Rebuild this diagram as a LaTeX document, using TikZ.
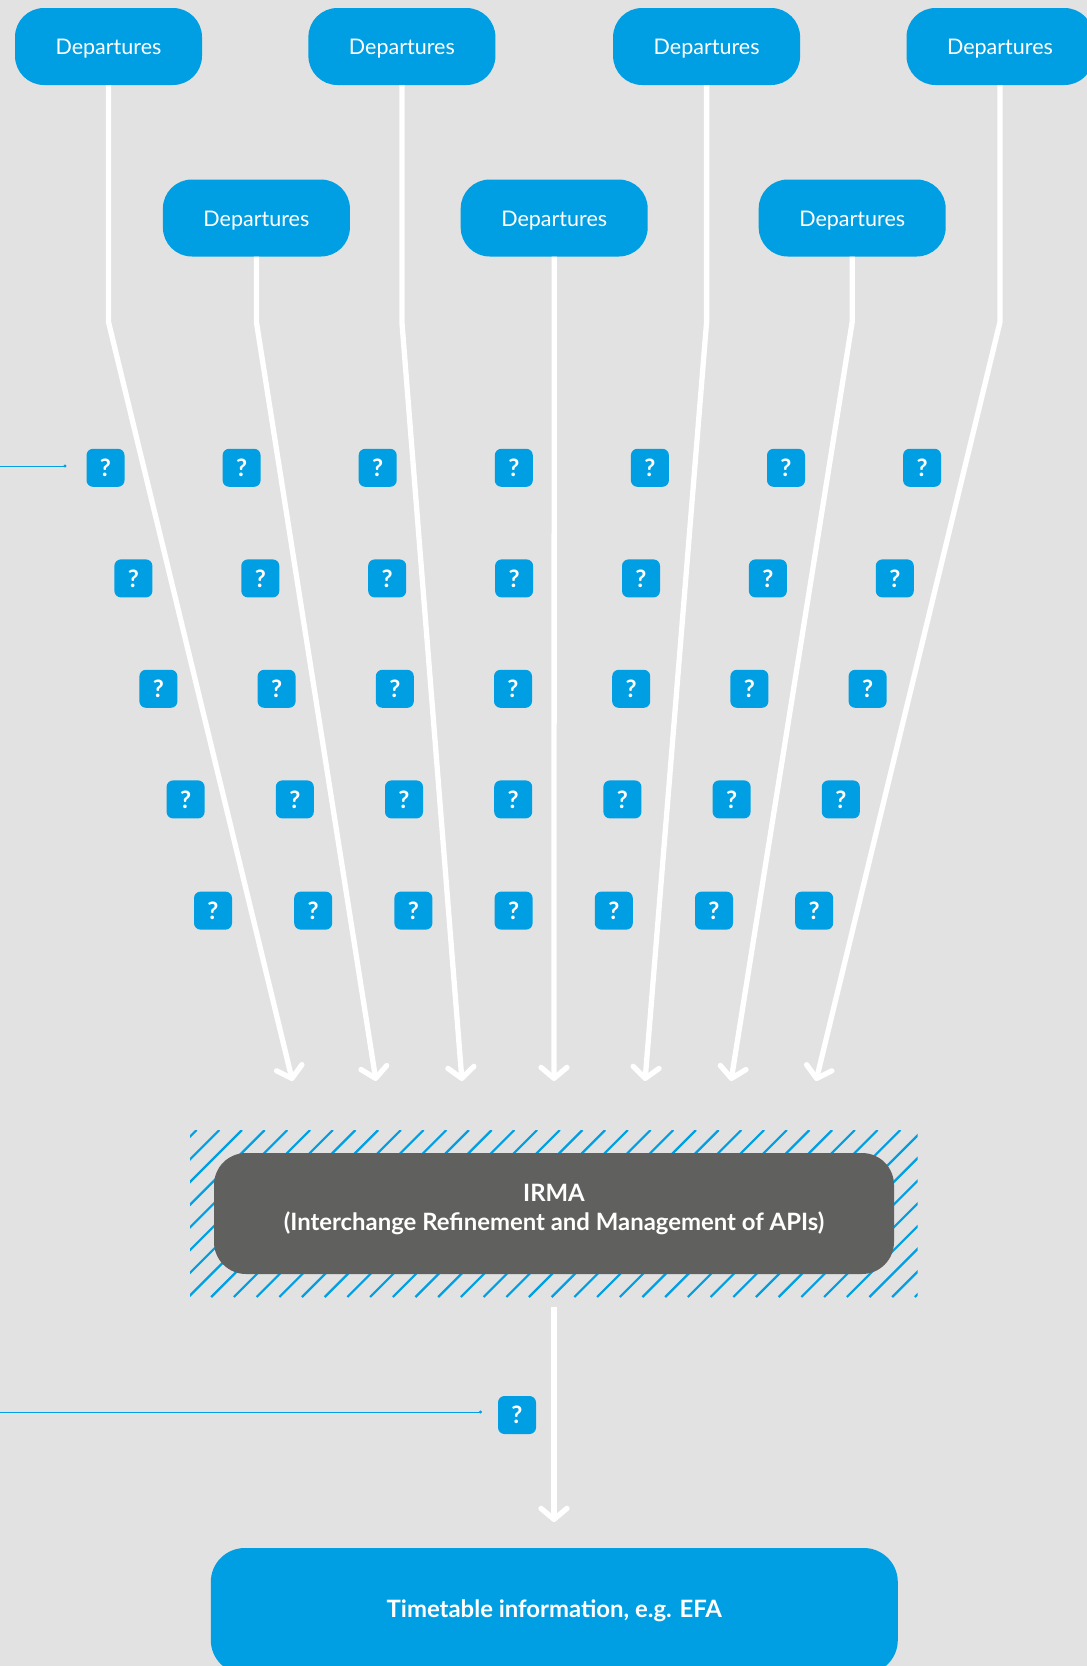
\documentclass[tikz,border=0pt]{standalone}
\usepackage{fontspec}
\setmainfont{Lato}
\usetikzlibrary{arrows.meta,calc}
\definecolor{pagegrey}{HTML}{E2E2E2}
\definecolor{skyblue}{HTML}{009FE3}
\definecolor{slategrey}{HTML}{60605E}

\begin{document}
\begin{tikzpicture}[
  x=1pt,y=-1pt,
  line cap=round,line join=round,
  depbox/.style={fill=skyblue,text=white,rounded corners=29pt,minimum width=187pt,
    minimum height=77pt,inner sep=0pt,text height=21.5pt,text depth=5.4pt,
    font=\fontsize{21.5}{24}\selectfont},
  qbox/.style={fill=skyblue,text=white,rounded corners=6.5pt,minimum size=38pt,
    inner sep=0pt,font=\fontsize{24}{26}\selectfont\bfseries},
  irmabox/.style={fill=slategrey,text=white,rounded corners=32pt,minimum width=680pt,
    minimum height=121pt,inner sep=0pt,align=center,text depth=12pt,
    font=\fontsize{23.9}{29}\selectfont\bfseries},
  infobox/.style={fill=skyblue,text=white,rounded corners=34pt,minimum width=687pt,
    minimum height=126pt,inner sep=0pt,text height=19pt,text depth=6.4pt,
    font=\fontsize{23.9}{26}\selectfont\bfseries},
  flow/.style={draw=white,line width=5.3pt,line cap=butt,
    -{Straight Barb[length=11pt,width=26pt,line width=5.3pt,round]}},
  probe/.style={draw=skyblue,line width=0.9pt,-{Circle[length=3pt,width=3pt]}}
]
\useasboundingbox (0,0) rectangle (1087,1666);
\fill[pagegrey] (0,0) rectangle (1087,1666);
\clip (0,0) rectangle (1087,1666);

% Hatched zone behind the grey box.
\coordinate (hnw) at (190,1130);
\coordinate (hse) at (917.5,1297);
\begin{scope}
  \clip (hnw) rectangle (hse);
  \foreach \k in {-1,...,38}
    \draw[skyblue,line width=2.2pt,line cap=butt]
      ({219.3+22.7*\k},1130) -- ({52.3+22.7*\k},1297);
\end{scope}

% Sources, two rows.
\node[depbox] (d1) at (108.5,46.5) {Departures};
\node[depbox] (d3) at (401.9,46.5) {Departures};
\node[depbox] (d5) at (706.6,46.5) {Departures};
\node[depbox] (d7) at (1000,46.5) {Departures};
\node[depbox] (d2) at (256.4,218) {Departures};
\node[depbox] (d4) at (554.2,218) {Departures};
\node[depbox] (d6) at (852.2,218) {Departures};

% Question marks: row, y, first x, step.
\foreach \r/\qy/\qx/\qd in {1/467.8/105.5/136.1,2/578.4/133.4/126.9,3/688.8/158.4/118.2,
    4/799.4/185.6/109.2,5/910.6/213/100.2}
  \foreach \c in {1,...,7}
    \node[qbox] (q\r\c) at ({\qx+(\c-1)*\qd},\qy) {?};
\node[qbox] (qout) at (517,1415) {?};

% Target box and result.
\node[irmabox] (irma) at (554,1213.5) {IRMA\\(Interchange Refinement and Management of APIs)};
\node[infobox] (info) at (554.3,1611) {Timetable information, e.g. EFA};

% Feeds bend at one height, then converge.
\foreach \s/\tx in {d1/292.5,d2/376,d3/462,d4/554,d5/645,d6/731,d7/816} {
  \coordinate (b\s) at (\s.south |- 0,322);
  \coordinate (t\s) at (\tx,1081);
  \draw[flow] (\s.south) -- (b\s) -- (t\s);
}
\coordinate (hout) at (554,1307);
\coordinate (tinfo) at (554,1522);
\draw[flow] (hout) -- (tinfo);

% Thin lead-ins from the page edge.
\coordinate (lead1) at (0,466);
\coordinate (end1) at (66.5,466);
\coordinate (lead2) at (0,1412);
\coordinate (end2) at (482,1412);
\draw[probe] (lead1) -- (end1);
\draw[probe] (lead2) -- (end2);
\end{tikzpicture}
\end{document}
